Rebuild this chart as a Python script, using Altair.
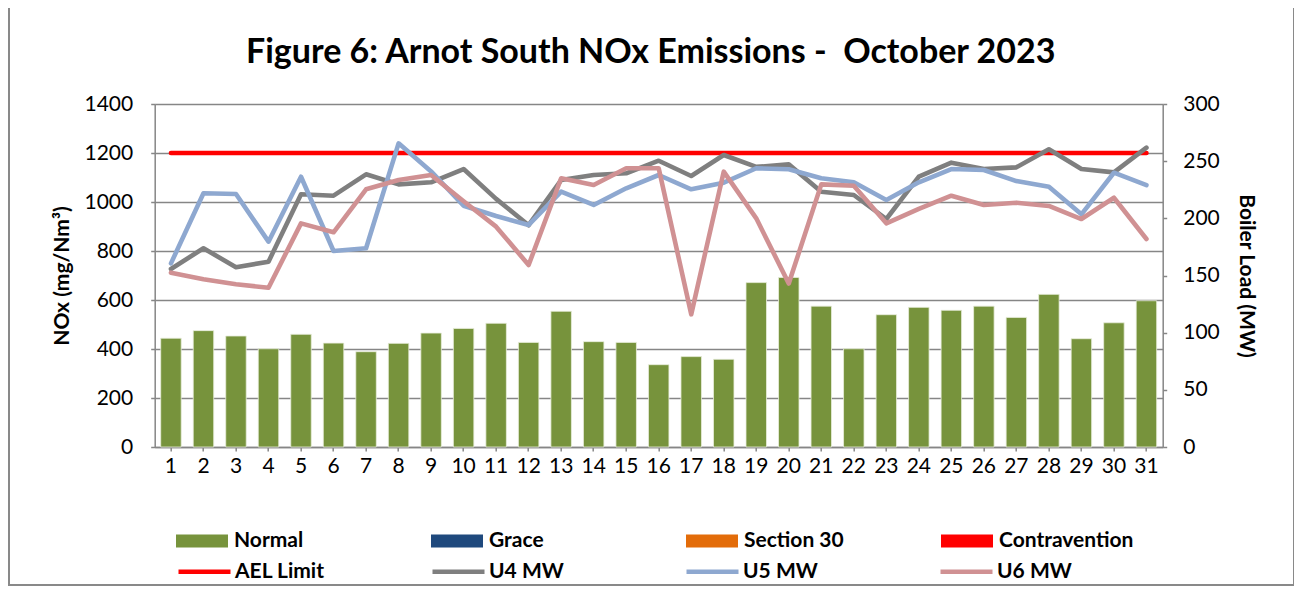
import altair as alt
import pandas as pd

# ---------------- data ----------------
days = list(range(1, 32))
nox = [444, 475, 453, 401, 460, 424, 389, 423, 465, 484, 505, 427, 554, 430, 427, 336,
       369, 358, 671, 692, 575, 401, 540, 570, 558, 575, 529, 623, 442, 507, 597]
status = ["Normal"] * 31
ael = [1200] * 31
u4 = [155.7, 173.8, 157.2, 162.1, 221.0, 219.8, 238.5, 229.7, 231.5, 243.1, 217.0, 194.0,
      233.5, 237.9, 239.4, 250.4, 237.0, 255.4, 245.0, 247.2, 223.3, 220.4, 199.4, 236.4,
      248.7, 243.1, 244.6, 260.4, 243.1, 240.2, 261.8]
u5 = [160.6, 221.9, 221.3, 179.6, 236.4, 171.4, 173.8, 265.6, 241.0, 211.0, 202.0, 194.2,
      223.3, 211.7, 226.3, 237.9, 225.4, 231.2, 243.8, 242.9, 235.0, 231.5, 216.0, 231.5,
      243.1, 242.3, 232.6, 227.7, 203.5, 239.9, 229.1]
u6 = [152.5, 146.7, 142.3, 139.3, 195.6, 187.8, 225.4, 233.5, 237.9, 215.0, 192.7, 159.2,
      235.0, 229.1, 243.8, 243.8, 116.0, 240.8, 200.0, 143.0, 229.7, 228.5, 195.6, 208.2,
      219.8, 211.7, 213.7, 210.8, 199.4, 218.0, 181.9]

status_domain = ["Normal", "Grace", "Section 30", "Contravention"]
status_colors = ["#77933C", "#1F497D", "#E36C09", "#FF0000"]
line_domain = ["AEL Limit", "U4 MW", "U5 MW", "U6 MW"]
line_colors = ["#FF0000", "#7F7F7F", "#8EA8D0", "#D09193"]

title_text = "Figure 6: Arnot South NOx Emissions -\u00a0 October 2023"
FONT = "Lato"

# ---------------- tables ----------------
left_df = pd.DataFrame({"day": days, "nox": nox, "status": status,
                        "ael": ael, "series": ["AEL Limit"] * 31})
mw_rows = []
for name, vals in (("U4 MW", u4), ("U5 MW", u5), ("U6 MW", u6)):
    for d, v in zip(days, vals):
        mw_rows.append({"day": d, "mw": v, "series": name})
mw_df = pd.DataFrame(mw_rows)

W, H = 1008, 343

x_enc = alt.X("day:O",
              scale=alt.Scale(paddingInner=0.37, paddingOuter=0.185),
              axis=alt.Axis(title=None, labelAngle=0, tickSize=4, labelPadding=4,
                            domainColor="#868686", tickColor="#868686"))

left_axis = alt.Axis(title="NOx (mg/Nm³)", values=[0, 200, 400, 600, 800, 1000, 1200, 1400],
                     format="d", grid=True, orient="left", tickSize=4, labelPadding=18,
                     titlePadding=11)
left_scale = alt.Scale(domain=[0, 1400], nice=False)

stroke_legend = alt.Legend(title=None, orient="none", legendX=21.3, legendY=439,
                           direction="horizontal", columns=4, symbolType="stroke",
                           symbolSize=2704, symbolStrokeWidth=4.5, labelOffset=2,
                           columnPadding=98, gridAlign="all")
stroke_scale = alt.Scale(domain=line_domain, range=line_colors)

bars = alt.Chart(left_df).mark_bar(stroke="#E8EEDC", strokeWidth=0.8).encode(
    x=x_enc,
    y=alt.Y("nox:Q", scale=left_scale, axis=left_axis),
    fill=alt.Fill("status:N", scale=alt.Scale(domain=status_domain, range=status_colors),
                  legend=alt.Legend(title=None, orient="none", legendX=21.3, legendY=411,
                                    direction="horizontal", columns=4,
                                    symbolType="M-1,-0.25H1V0.25H-1Z", symbolSize=2704,
                                    symbolStrokeWidth=0, labelOffset=6,
                                    columnPadding=62, gridAlign="all")),
)

ael_line = alt.Chart(left_df).mark_line(strokeWidth=4.6, strokeCap="round").encode(
    x=x_enc,
    y=alt.Y("ael:Q", scale=left_scale, axis=left_axis),
    stroke=alt.Stroke("series:N", scale=stroke_scale, legend=stroke_legend),
)

mw_lines = alt.Chart(mw_df).mark_line(strokeWidth=4.6, strokeJoin="round", strokeCap="round").encode(
    x=x_enc,
    y=alt.Y("mw:Q", scale=alt.Scale(domain=[0, 300], nice=False),
            axis=alt.Axis(title="Boiler Load (MW)", orient="right", grid=False,
                          values=[0, 50, 100, 150, 200, 250, 300], format="d", tickSize=4,
                          labelPadding=16, titlePadding=16)),
    stroke=alt.Stroke("series:N", scale=stroke_scale, legend=stroke_legend),
)

# outer chart border (decoration only)
frame = alt.Chart(pd.DataFrame({"k": [0]})).mark_rect(
    fill=None, stroke="#898989", strokeWidth=2
).encode(
    x=alt.value(-145.7), x2=alt.value(1139.3), y=alt.value(-100), y2=alt.value(481)
)

chart = alt.layer(
    alt.layer(bars, ael_line),
    mw_lines,
    frame,
).resolve_scale(y="independent").properties(
    width=W, height=H,
    title=alt.TitleParams(text=title_text, font=FONT, fontSize=34, fontWeight="bold",
                          color="black", anchor="middle", baseline="alphabetic",
                          offset=-94, dx=-8),
    padding={"left": 146.7, "top": 96, "right": 131.3, "bottom": 139},
    autosize=alt.AutoSizeParams(type="none"),
).configure_view(stroke=None).configure_axis(
    labelFont=FONT, labelFontSize=21, labelColor="black",
    titleFont=FONT, titleFontSize=21, titleFontWeight="bold", titleColor="black",
    domainColor="#868686", domainWidth=1.5, tickColor="#868686", tickWidth=1.5,
    gridColor="#868686", gridWidth=1.5,
).configure_legend(
    labelFont=FONT, labelFontSize=21, labelFontWeight="bold", labelColor="black",
    padding=0, labelLimit=300,
)

chart.save("out.html", embed_options={"renderer": "svg", "actions": False})
